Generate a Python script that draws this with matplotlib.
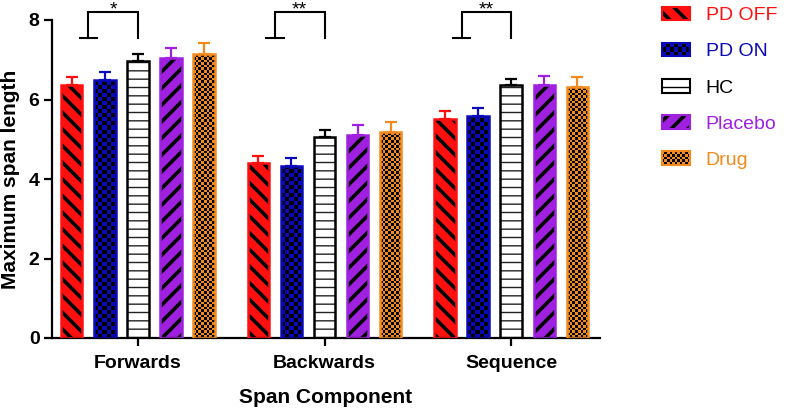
import numpy as np
import matplotlib
matplotlib.use("Agg")
import matplotlib.pyplot as plt
from matplotlib.patches import Rectangle, Patch
from matplotlib.colors import ListedColormap
from matplotlib.legend_handler import HandlerBase

plt.rcParams['font.family'] = ['Liberation Sans', 'DejaVu Sans']

# data
components = ["Forwards", "Backwards", "Sequence"]
groups = ["PD OFF", "PD ON", "HC", "Placebo", "Drug"]
pd_off = [6.37, 4.40, 5.52]
pd_off_err = [0.20, 0.18, 0.19]
pd_on = [6.50, 4.33, 5.58]
pd_on_err = [0.20, 0.21, 0.21]
hc = [6.97, 5.06, 6.36]
hc_err = [0.17, 0.17, 0.16]
placebo = [7.04, 5.11, 6.36]
placebo_err = [0.26, 0.24, 0.23]
drug = [7.14, 5.17, 6.32]
drug_err = [0.29, 0.26, 0.25]
stars = ["*", "**", "**"]

means = [pd_off, pd_on, hc, placebo, drug]
errs = [pd_off_err, pd_on_err, hc_err, placebo_err, drug_err]

colors = ["#ff1010", "#0a0ab8", "black", "#a020e0", "#f28a1e"]
fills = ["#ff1010", "#0a0ab8", "white", "#a020e0", "#f28a1e"]
hatches = ["\\\\", None, "--", "//", None]
hatch_lw = [2.6, 0, 1.0, 2.6, 0]
checker_px = [0, 4.0, 0, 0, 2.6]   # size of checker squares in pixels

fig = plt.figure(figsize=(7.88, 4.12), dpi=100)
ax = fig.add_axes([52/788, 74/412, 548/788, 318/412])

step = 0.177
width = 0.113
x = np.arange(len(components))
ax.set_xlim(-0.461, 2.477)
ax.set_ylim(0, 8)

fig.canvas.draw()
p0, p1 = ax.transData.transform([(0, 0), (1, 1)])
px_x, px_y = p1 - p0

for k in range(5):
    xs = x + (k - 2) * step
    with plt.rc_context({'hatch.linewidth': max(hatch_lw[k], 0.1)}):
        base = ax.bar(xs, means[k], width, color=fills[k], edgecolor='#222222' if k == 2 else 'black',
                      linewidth=0, hatch=hatches[k], zorder=2)
    if checker_px[k]:
        for rect in base:
            x0, w, h = rect.get_x(), rect.get_width(), rect.get_height()
            cx = checker_px[k] / px_x
            cy = checker_px[k] / px_y
            nx = int(np.ceil(w / cx)) + 1
            ny = int(np.ceil(h / cy)) + 1
            arr = np.add.outer(np.arange(ny), np.arange(nx)) % 2
            im = ax.imshow(arr, extent=(x0, x0 + nx * cx, 0, ny * cy), origin='lower',
                           cmap=ListedColormap([fills[k], 'black']), interpolation='nearest',
                           aspect='auto', zorder=2.5)
            im.set_clip_path(rect)
    ax.bar(xs, means[k], width, fill=False, edgecolor=colors[k], linewidth=1.8, zorder=3)
    ax.errorbar(xs, means[k], yerr=[np.zeros(3), errs[k]], fmt='none', ecolor=colors[k],
                elinewidth=1.6, capsize=4, capthick=1.6, zorder=3)

ax.set_xlim(-0.461, 2.477)
ax.set_ylim(0, 8)

# significance brackets: pooled PD vs HC
y_lo, y_hi = 7.55, 8.2
for i, s in enumerate(stars):
    xl = x[i] - 1.5 * step
    xr = x[i]
    ax.plot([xl, xl, xr, xr], [y_lo, y_hi, y_hi, y_lo], color='black', lw=1.5, clip_on=False,
            solid_joinstyle='miter')
    ax.plot([xl - 0.048, xl + 0.048], [y_lo, y_lo], color='black', lw=1.5, clip_on=False)
    ax.text((xl + xr) / 2, 8.47, s, ha='center', va='top', fontsize=14, clip_on=False)

for side in ['top', 'right']:
    ax.spines[side].set_visible(False)
for side in ['left', 'bottom']:
    ax.spines[side].set_linewidth(1.6)
ax.set_xticks(x)
ax.set_xticklabels(components, fontsize=14, fontweight='bold')
ax.set_yticks([0, 2, 4, 6, 8])
ax.set_yticklabels(['0', '2', '4', '6', '8'], fontsize=14, fontweight='bold')
ax.tick_params(axis='both', width=1.6, length=6, pad=3)
ax.tick_params(axis='x', pad=6)
ax.set_xlabel("Span Component", fontsize=15, fontweight='bold', labelpad=12)
ax.set_ylabel("Maximum span length", fontsize=15, fontweight='bold', labelpad=6)


class SwatchHandler(HandlerBase):
    def __init__(self, face, edge, hatch, hlw, cells):
        super().__init__()
        self.face, self.edge, self.hatch, self.hlw, self.cells = face, edge, hatch, hlw, cells

    def create_artists(self, legend, orig_handle, xdescent, ydescent, width, height, fontsize, trans):
        x0, y0 = -xdescent, -ydescent
        arts = []
        with plt.rc_context({'hatch.linewidth': max(self.hlw, 0.1)}):
            arts.append(Rectangle((x0, y0), width, height, facecolor=self.face, edgecolor='black',
                                  lw=0, hatch=self.hatch, transform=trans))
        if self.cells:
            nx = self.cells
            ny = max(1, int(round(nx * height / width)))
            cw, ch = width / nx, height / ny
            for i in range(ny):
                for j in range(nx):
                    if (i + j) % 2:
                        arts.append(Rectangle((x0 + j * cw, y0 + i * ch), cw, ch, facecolor='black',
                                              lw=0, transform=trans))
        arts.append(Rectangle((x0, y0), width, height, fill=False, edgecolor=self.edge, lw=1.5,
                              transform=trans))
        return arts


handles = [Patch() for _ in groups]
cells = [0, 7, 0, 0, 11]
hmap = {h: SwatchHandler(fills[k], colors[k], hatches[k], hatch_lw[k], cells[k])
        for k, h in enumerate(handles)}
fig.legend(handles, groups, handler_map=hmap, loc='upper left', bbox_to_anchor=(658/788, 0.993),
           frameon=False, fontsize=14, handlelength=1.45, handleheight=0.7, handletextpad=0.8,
           labelspacing=0.95, labelcolor=colors, borderpad=0.2, borderaxespad=0.0)

fig.savefig("out.png", dpi=100)
